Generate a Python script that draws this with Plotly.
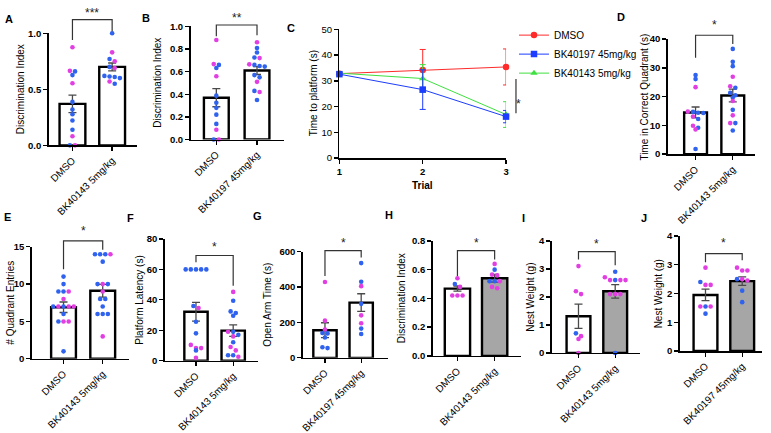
import plotly.graph_objects as go

W, H = 771, 433
BLUE = '#2f62ee'
PINK = '#e23fe2'
GRAYFILL = '#a6a6a6'
FONT = 'Liberation Sans, Arial, sans-serif'

# ---------------- data ----------------
# A
A_labels = ['DMSO', 'BK40143 5mg/kg']
A_mean = [0.37, 0.70]
A_sem = [0.078, 0.035]
A_ctrl = [0.875, 0.665, 0.66, 0.627, 0.554, 0.388, 0.32, 0.277, 0.222, 0.14, 0.082, 0.0, 0.0]
A_ctrl_c = 'ppbbpbbbbbpbp'
A_trt = [1.0, 0.83, 0.77, 0.75, 0.70, 0.69, 0.62, 0.615, 0.61, 0.60, 0.57, 0.55]
A_trt_c = 'bpbpbpbbbbpb'
# B
B_labels = ['DMSO', 'BK40197 45mg/kg']
B_mean = [0.37, 0.61]
B_sem = [0.08, 0.035]
B_ctrl = [0.88, 0.667, 0.66, 0.632, 0.56, 0.388, 0.325, 0.28, 0.22, 0.138, 0.086, 0.0, 0.0]
B_ctrl_c = 'ppbbpbbbbbpbp'
B_trt = [0.86, 0.81, 0.77, 0.725, 0.72, 0.665, 0.66, 0.65, 0.645, 0.57, 0.55, 0.51, 0.43, 0.42, 0.35]
B_trt_c = 'pbbbppbbbbbpbpb'
# C (time course)
C_trials = [1, 2, 3]
C_dmso = [32.8, 34.2, 35.4]
C_dmso_err = [0.5, 8.0, 7.0]
C_bk197 = [32.6, 26.6, 16.1]
C_bk197_err = [0.5, 7.7, 2.4]
C_bk143 = [33.0, 30.9, 16.9]
C_bk143_err = [0.5, 5.4, 5.0]
C_names = ['DMSO', 'BK40197 45mg/kg', 'BK40143 5mg/kg']
# D
D_labels = ['DMSO', 'BK40143 5mg/kg']
D_mean = [14.5, 20.4]
D_sem = [1.9, 2.2]
D_ctrl = [27.5, 26.1, 23.3, 14.8, 14.7, 14.4, 14.3, 13.1, 12.2, 9.9, 9.2, 8.6, 1.8]
D_ctrl_c = 'bbppbbbpbpbpb'
D_trt = [36.6, 32.1, 30.6, 26.9, 23.6, 23.1, 21.3, 20.5, 19.7, 18.5, 15.4, 13.5, 10.8, 10.8, 8.2]
D_trt_c = 'bbbppbbbbpbppbb'
# E
E_labels = ['DMSO', 'BK40143 5mg/kg']
E_mean = [6.9, 9.1]
E_sem = [0.7, 0.85]
E_ctrl = [11, 10, 9, 9, 9, 8, 7, 7, 7, 7, 7, 6, 5, 5, 5, 1]
E_ctrl_c = 'bbbbppbpbppbbppb'
E_trt = [14, 14, 14, 14, 13, 10, 10, 10, 9, 8, 8, 7, 6, 6, 6, 3]
E_trt_c = 'bbbpbbpbpbbbbbbp'
# F
F_labels = ['DMSO', 'BK40143 5mg/kg']
F_mean = [32.2, 19.8]
F_sem = [6.2, 3.8]
F_ctrl = [60, 60, 60, 60, 60, 36.0, 34.6, 25.6, 18.0, 10.4, 8.3, 8.3, 6.8, 1.9]
F_ctrl_c = 'bbbbbbpbbpppbp'
F_trt = [45.2, 39.4, 32.4, 31.4, 29.6, 19.0, 19.0, 17.0, 16.0, 12.2, 9.0, 6.8, 3.6, 3.6, 2.6]
F_trt_c = 'pbbbbpbbpbppbbp'
# G
G_labels = ['DMSO', 'BK40197 45mg/kg']
G_mean = [156, 312]
G_sem = [42, 50]
G_ctrl = [428, 210, 160, 140, 138, 115, 60, 55]
G_ctrl_c = 'pppbbbbb'
G_trt = [535, 430, 405, 305, 240, 195, 165, 135]
G_trt_c = 'bbpbppbb'
# H
H_labels = ['DMSO', 'BK40143 5mg/kg']
H_mean = [0.468, 0.54]
H_sem = [0.018, 0.027]
H_ctrl = [0.54, 0.50, 0.48, 0.42, 0.42, 0.42]
H_ctrl_c = 'pbpppp'
H_trt = [0.64, 0.60, 0.565, 0.56, 0.52, 0.52, 0.52, 0.48, 0.47]
H_trt_c = 'pbppbbppp'
# I
I_labels = ['DMSO', 'BK40143 5mg/kg']
I_mean = [1.31, 2.2]
I_sem = [0.43, 0.24]
I_ctrl = [3.1, 2.2, 2.1, 0.7, 0.6, 0.5, 0.0]
I_ctrl_c = 'pppbppp'
I_trt = [2.9, 2.7, 2.6, 2.6, 2.6, 2.6, 2.1, 2.1, 2.1, 0.0]
I_trt_c = 'bppbpppppb'
# J
J_labels = ['DMSO', 'BK40197 45mg/kg']
J_mean = [1.95, 2.43]
J_sem = [0.2, 0.15]
J_ctrl = [2.9, 2.4, 2.3, 2.3, 1.55, 1.55, 1.55, 1.3]
J_ctrl_c = 'pbpppbpb'
J_trt = [2.9, 2.8, 2.8, 2.5, 2.5, 2.45, 2.1, 1.7]
J_trt_c = 'pppbppbb'


def px2x(px):
    return px / W


def px2y(py):
    return 1 - py / H


def swarm(vals, ppu, thresh=3.5, step=5.2):
    idx = sorted(range(len(vals)), key=lambda i: -vals[i])
    offs = [0.0] * len(vals)
    clusters = []
    for i in idx:
        if clusters and (vals[clusters[-1][0]] - vals[i]) * ppu < thresh:
            clusters[-1].append(i)
        else:
            clusters.append([i])
    for cl in clusters:
        n = len(cl)
        for k, i in enumerate(cl):
            offs[i] = (k - (n - 1) / 2) * step
    return offs


fig = go.Figure()
layout = {}
annotations = []
shapes = []

tickfont_b = dict(family=FONT, size=9.5, color='black', weight='bold')
xtickfont = dict(family=FONT, size=10, color='black')
titlefont = dict(family=FONT, size=10, color='black')


def axis_names(n):
    xs = 'x' if n == 1 else f'x{n}'
    ys = 'y' if n == 1 else f'y{n}'
    xk = 'xaxis' if n == 1 else f'xaxis{n}'
    yk = 'yaxis' if n == 1 else f'yaxis{n}'
    return xs, ys, xk, yk


def ytitle_ann(text, xpx, ybot, ytop):
    annotations.append(dict(x=px2x(xpx), y=(px2y(ybot) + px2y(ytop)) / 2, xref='paper', yref='paper',
                            text=text, textangle=-90, showarrow=False, xanchor='center',
                            yanchor='middle', font=titlefont))


def bar_panel(n, labels, mean, sem, ctrl, ctrl_c, trt, trt_c, fill2, geo,
              ytitle, star, letter):
    xs, ys, xk, yk = axis_names(n)
    left, right = geo['xpx']
    c1, c2 = geo['centers']
    unit = c2 - c1
    rng = [-(c1 - left) / unit, 1 + (right - c2) / unit]
    ybot, ytop = geo['ypx']
    ymax = geo['ymax']
    ppu = (ybot - ytop) / ymax
    fig.add_trace(go.Bar(
        x=[0, 1], y=mean, width=geo['barw'] / unit,
        marker=dict(color=['white', fill2], line=dict(color='black', width=2.4)),
        error_y=dict(type='data', array=sem, color='#4a4a4a', thickness=1.3, width=4),
        xaxis=xs, yaxis=ys, showlegend=False, hoverinfo='skip'))
    for gi, (vals, cols) in enumerate([(ctrl, ctrl_c), (trt, trt_c)]):
        offs = swarm(vals, ppu)
        fig.add_trace(go.Scatter(
            x=[gi + o / unit for o in offs], y=vals, mode='markers',
            marker=dict(size=4.6, color=[BLUE if c == 'b' else PINK for c in cols]),
            cliponaxis=False, xaxis=xs, yaxis=ys, showlegend=False, hoverinfo='skip'))
    layout[xk] = dict(domain=[px2x(left), px2x(right)], range=rng, anchor=ys,
                      tickvals=[0, 1], ticktext=labels, tickangle=-45,
                      ticks='outside', ticklen=4, tickwidth=1.3, tickcolor='black',
                      showline=True, linecolor='black', linewidth=1.5,
                      showgrid=False, zeroline=False, tickfont=xtickfont, fixedrange=True)
    layout[yk] = dict(domain=[px2y(ybot), px2y(ytop)], range=[0, ymax], anchor=xs,
                      dtick=geo['dtick'], tickformat=geo['fmt'],
                      ticks='outside', ticklen=4, tickwidth=1.3, tickcolor='black',
                      showline=True, linecolor='black', linewidth=1.5,
                      showgrid=False, zeroline=False, tickfont=tickfont_b, fixedrange=True)
    ytitle_ann(ytitle, geo['tx'], ybot, ytop)
    t, l, r, s = geo['br']
    shapes.append(dict(type='path',
                       path=f'M 0,{px2y(l)} L 0,{px2y(t)} L 1,{px2y(t)} L 1,{px2y(r)}',
                       xref=xs, yref='paper', line=dict(color='#333333', width=1.2)))
    annotations.append(dict(x=0.5, xref=xs, y=px2y(s), yref='paper', text=star,
                            showarrow=False, font=dict(family=FONT, size=12, color='#222'),
                            xanchor='center', yanchor='middle'))
    lx, ly = geo['letter']
    annotations.append(dict(x=px2x(lx), y=px2y(ly), xref='paper', yref='paper', text=letter,
                            showarrow=False, xanchor='center', yanchor='middle',
                            font=dict(family=FONT, size=11, color='black', weight='bold')))


geoA = dict(xpx=(46, 135), centers=(70, 110), barw=26, ypx=(143, 28), ymax=1.0, dtick=0.5,
            fmt='.1f', br=(14, 35, 26, 7), letter=(6, 13.5), tx=17)
geoB = dict(xpx=(189, 283), centers=(215, 256), barw=25, ypx=(137, 21), ymax=1.0, dtick=0.2,
            fmt='.1f', br=(19.5, 31, 30, 12), letter=(144.5, 12.5), tx=156)
geoD = dict(xpx=(670, 758), centers=(698, 735.5), barw=23, ypx=(152, 34), ymax=40, dtick=10,
            fmt='d', br=(30, 53, 39, 20), letter=(623, 11.5), tx=647)
geoE = dict(xpx=(29, 127), centers=(61, 100.5), barw=25, ypx=(362, 247), ymax=15, dtick=5,
            fmt='d', br=(241, 270, 250, 231), letter=(5, 216.5), tx=8)
geoF = dict(xpx=(163, 257), centers=(194.5, 232), barw=23.5, ypx=(364, 239), ymax=80, dtick=20,
            fmt='d', br=(256, 263, 287, 247), letter=(128.5, 218), tx=138)
geoG = dict(xpx=(302, 388), centers=(324.5, 361), barw=23.5, ypx=(361, 252), ymax=600, dtick=200,
            fmt='d', br=(251, 277, 258, 243), letter=(256, 215), tx=267)
geoH = dict(xpx=(433, 522), centers=(458, 495.5), barw=25.5, ypx=(359, 241), ymax=0.8, dtick=0.2,
            fmt='.1f', br=(251, 277, 260, 243), letter=(389, 214), tx=401)
geoI = dict(xpx=(553, 642), centers=(580, 617), barw=24, ypx=(356, 241), ymax=4, dtick=1,
            fmt='d', br=(252, 260, 266, 244), letter=(525, 218), tx=532)
geoJ = dict(xpx=(682, 765), centers=(708, 745), barw=24, ypx=(354, 236), ymax=4, dtick=1,
            fmt='d', br=(254, 263, 261, 243), letter=(646, 217.5), tx=661)

bar_panel(1, A_labels, A_mean, A_sem, A_ctrl, A_ctrl_c, A_trt, A_trt_c, 'white', geoA,
          'Discrimination Index', '***', 'A')
bar_panel(2, B_labels, B_mean, B_sem, B_ctrl, B_ctrl_c, B_trt, B_trt_c, 'white', geoB,
          'Discrimination Index', '**', 'B')
bar_panel(4, D_labels, D_mean, D_sem, D_ctrl, D_ctrl_c, D_trt, D_trt_c, 'white', geoD,
          'Time in Correct Quadrant (s)', '*', 'D')
bar_panel(5, E_labels, E_mean, E_sem, E_ctrl, E_ctrl_c, E_trt, E_trt_c, 'white', geoE,
          '# Quadrant Entries', '*', 'E')
bar_panel(6, F_labels, F_mean, F_sem, F_ctrl, F_ctrl_c, F_trt, F_trt_c, 'white', geoF,
          'Platform Latency (s)', '*', 'F')
bar_panel(7, G_labels, G_mean, G_sem, G_ctrl, G_ctrl_c, G_trt, G_trt_c, 'white', geoG,
          'Open Arm Time (s)', '*', 'G')
bar_panel(8, H_labels, H_mean, H_sem, H_ctrl, H_ctrl_c, H_trt, H_trt_c, GRAYFILL, geoH,
          'Discrimination Index', '*', 'H')
bar_panel(9, I_labels, I_mean, I_sem, I_ctrl, I_ctrl_c, I_trt, I_trt_c, GRAYFILL, geoI,
          'Nest Weight (g)', '*', 'I')
bar_panel(10, J_labels, J_mean, J_sem, J_ctrl, J_ctrl_c, J_trt, J_trt_c, GRAYFILL, geoJ,
          'Nest Weight (g)', '*', 'J')

# ---------------- panel C ----------------
C_specs = [
    (C_dmso, C_dmso_err, '#ff2a2a', 'circle', C_names[0], 1),
    (C_bk143, C_bk143_err, '#3fe03f', 'triangle-up', C_names[2], 3),
    (C_bk197, C_bk197_err, '#1c3cff', 'square', C_names[1], 2),
]
for vals, err, col, sym, name, rank in C_specs:
    fig.add_trace(go.Scatter(
        x=C_trials, y=vals, mode='lines+markers', name=name, legendrank=rank,
        line=dict(color=col, width=1),
        marker=dict(symbol=sym, size=6.5, color=col),
        error_y=dict(type='data', array=err, color=col, thickness=1, width=3),
        xaxis='x3', yaxis='y3', cliponaxis=False, hoverinfo='skip'))

layout['xaxis3'] = dict(domain=[px2x(339), px2x(507)], range=[1, 3], anchor='y3',
                        tickvals=[1, 2, 3], ticks='outside', ticklen=4, tickwidth=1.3,
                        tickcolor='black', showline=True, linecolor='black', linewidth=1.5,
                        showgrid=False, zeroline=False,
                        tickfont=dict(family=FONT, size=9.5, color='black', weight='bold'),
                        fixedrange=True)
layout['yaxis3'] = dict(domain=[px2y(156), px2y(24)], range=[0, 50], anchor='x3', dtick=10,
                        ticks='outside', ticklen=4, tickwidth=1.3, tickcolor='black',
                        showline=True, linecolor='black', linewidth=1.5,
                        showgrid=False, zeroline=False,
                        tickfont=dict(family=FONT, size=9.5, color='black'),
                        fixedrange=True)
ytitle_ann('Time to platform (s)', 313, 156, 24)
annotations.append(dict(x=px2x(423), y=px2y(184), xref='paper', yref='paper', text='Trial',
                        showarrow=False, xanchor='center', yanchor='middle',
                        font=dict(family=FONT, size=10, color='black', weight='bold')))
shapes.append(dict(type='line', xref='paper', yref='paper', x0=px2x(517), x1=px2x(517),
                   y0=px2y(75), y1=px2y(110), line=dict(color='#333333', width=1.2)))
annotations.append(dict(x=px2x(524), y=px2y(91), xref='paper', yref='paper', text='*',
                        showarrow=False, font=dict(family=FONT, size=12, color='#222')))
annotations.append(dict(x=px2x(290), y=px2y(14), xref='paper', yref='paper', text='C',
                        showarrow=False, font=dict(family=FONT, size=11, color='black', weight='bold')))

layout.update(dict(
    width=W, height=H, margin=dict(l=0, r=0, t=0, b=0),
    paper_bgcolor='white', plot_bgcolor='white',
    showlegend=True,
    legend=dict(x=px2x(515), y=px2y(15), xanchor='left', yanchor='top',
                font=dict(family=FONT, size=10, color='black'),
                bgcolor='rgba(0,0,0,0)', tracegroupgap=0, itemwidth=30),
    annotations=annotations, shapes=shapes,
    font=dict(family=FONT),
))
fig.update_layout(**layout)
fig.write_html('out.html', config={'displayModeBar': False, 'staticPlot': True},
               post_script="document.body.style.margin='0';document.body.style.overflow='hidden';")
